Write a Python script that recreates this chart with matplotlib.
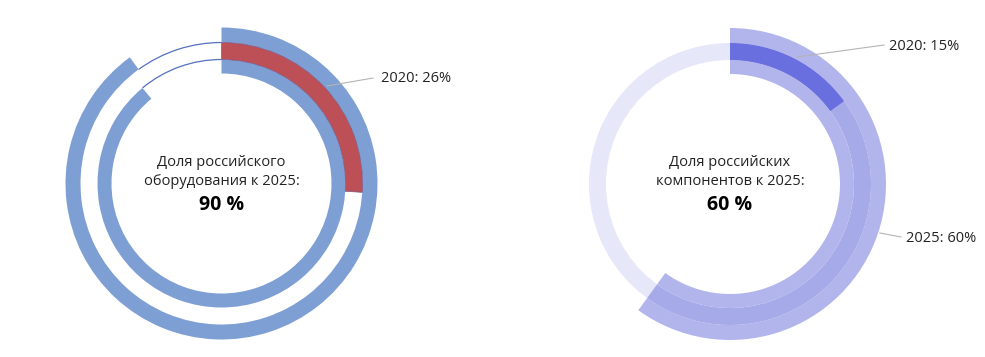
import matplotlib

matplotlib.use("Agg")
import matplotlib.pyplot as plt
from matplotlib.patches import Arc

plt.rcParams["font.family"] = ["Open Sans", "DejaVu Sans"]

W, H = 985, 357

# left chart: russian equipment share
equip_2025 = 90
equip_2020 = 26
equip_title = "Доля российского\nоборудования к 2025:"
equip_value = "90 %"

# right chart: russian components share
comp_2025 = 60
comp_2020 = 15
comp_title = "Доля российских\nкомпонентов к 2025:"
comp_value = "60 %"

BLUE = "#7e9fd3"
RED = "#bd4f56"
EDGE = "#5470c0"
LIGHT = "#b2b5ec"
MID = "#a7aae9"
DARK = "#6a6fdf"
PALE = "#e6e7f8"
LEAD = "#b4b4b4"

R_OUT, R_MID, R_IN, R_HOLE = 156, 141, 124, 110


def ring(ax, values, center, r_outer, r_inner, colors, edge=None, lw=0.0):
    wedges, _ = ax.pie(
        values,
        radius=r_outer,
        center=center,
        startangle=90,
        counterclock=False,
        colors=colors,
        wedgeprops=dict(width=r_outer - r_inner, linewidth=lw,
                        edgecolor=edge if edge else "none"),
    )
    return wedges


def gap_arc(ax, center, r, share):
    # thin outline over the empty part of a ring (from 12 o'clock, counter-clockwise)
    ax.add_patch(Arc(center, 2 * r, 2 * r, theta1=90, theta2=90 + 3.6 * (100 - share),
                     color=EDGE, lw=0.9))


def px(x, y):
    # pixel coords (top-left origin) -> axes data coords
    return x, H - y


fig = plt.figure(figsize=(W / 100, H / 100), dpi=100)
ax = fig.add_axes([0, 0, 1, 1])

# ---- left donut ----
cl = px(221.5, 183.5)
gap_arc(ax, cl, R_MID, equip_2025)
gap_arc(ax, cl, R_IN, equip_2025 - 1)
w = ring(ax, [equip_2025, 100 - equip_2025], cl, R_OUT, R_MID, [BLUE, "white"])
w[1].set_visible(False)
w = ring(ax, [equip_2025 - 1, 100 - equip_2025 + 1], cl, R_IN, R_HOLE, [BLUE, "white"])
w[1].set_visible(False)
w = ring(ax, [equip_2020, 100 - equip_2020], cl, R_MID, R_IN, [RED, "white"], "#7a5a8a", 0.5)
w[1].set_visible(False)

ax.text(cl[0], H - 172, equip_title, ha="center", va="center", fontsize=10.5,
        linespacing=1.45, color="#222222")
ax.text(cl[0], H - 205, equip_value, ha="center", va="center", fontsize=14,
        fontweight="bold", color="black")
ax.plot([327, 373], [H - 86, H - 78], color=LEAD, lw=0.8)
ax.text(381, H - 79, f"2020: {equip_2020}%", ha="left", va="center", fontsize=10.5,
        color="#222222")

# ---- right donut ----
cr = px(730, 184)
ring(ax, [100], cr, R_MID, R_IN, [PALE])
w = ring(ax, [comp_2025, 100 - comp_2025], cr, R_OUT, R_MID, [LIGHT, "white"])
w[1].set_visible(False)
w = ring(ax, [comp_2025, 100 - comp_2025], cr, R_MID, R_IN, [MID, "white"])
w[1].set_visible(False)
w = ring(ax, [comp_2025, 100 - comp_2025], cr, R_IN, R_HOLE, [LIGHT, "white"])
w[1].set_visible(False)
w = ring(ax, [comp_2020, 100 - comp_2020], cr, R_MID, R_IN, [DARK, "white"])
w[1].set_visible(False)

ax.text(cr[0], H - 172, comp_title, ha="center", va="center", fontsize=10.5,
        linespacing=1.45, color="#222222")
ax.text(cr[0], H - 205, comp_value, ha="center", va="center", fontsize=14,
        fontweight="bold", color="black")
ax.plot([797, 884], [H - 57, H - 45], color=LEAD, lw=0.8)
ax.text(889, H - 46, f"2020: {comp_2020}%", ha="left", va="center", fontsize=10.5,
        color="#222222")
ax.plot([880, 901], [H - 233, H - 237], color=LEAD, lw=0.8)
ax.text(906, H - 238, f"2025: {comp_2025}%", ha="left", va="center", fontsize=10.5,
        color="#222222")

ax.set_xlim(0, W)
ax.set_ylim(0, H)
ax.set_aspect("equal")
ax.axis("off")

fig.savefig("out.png", dpi=100)
